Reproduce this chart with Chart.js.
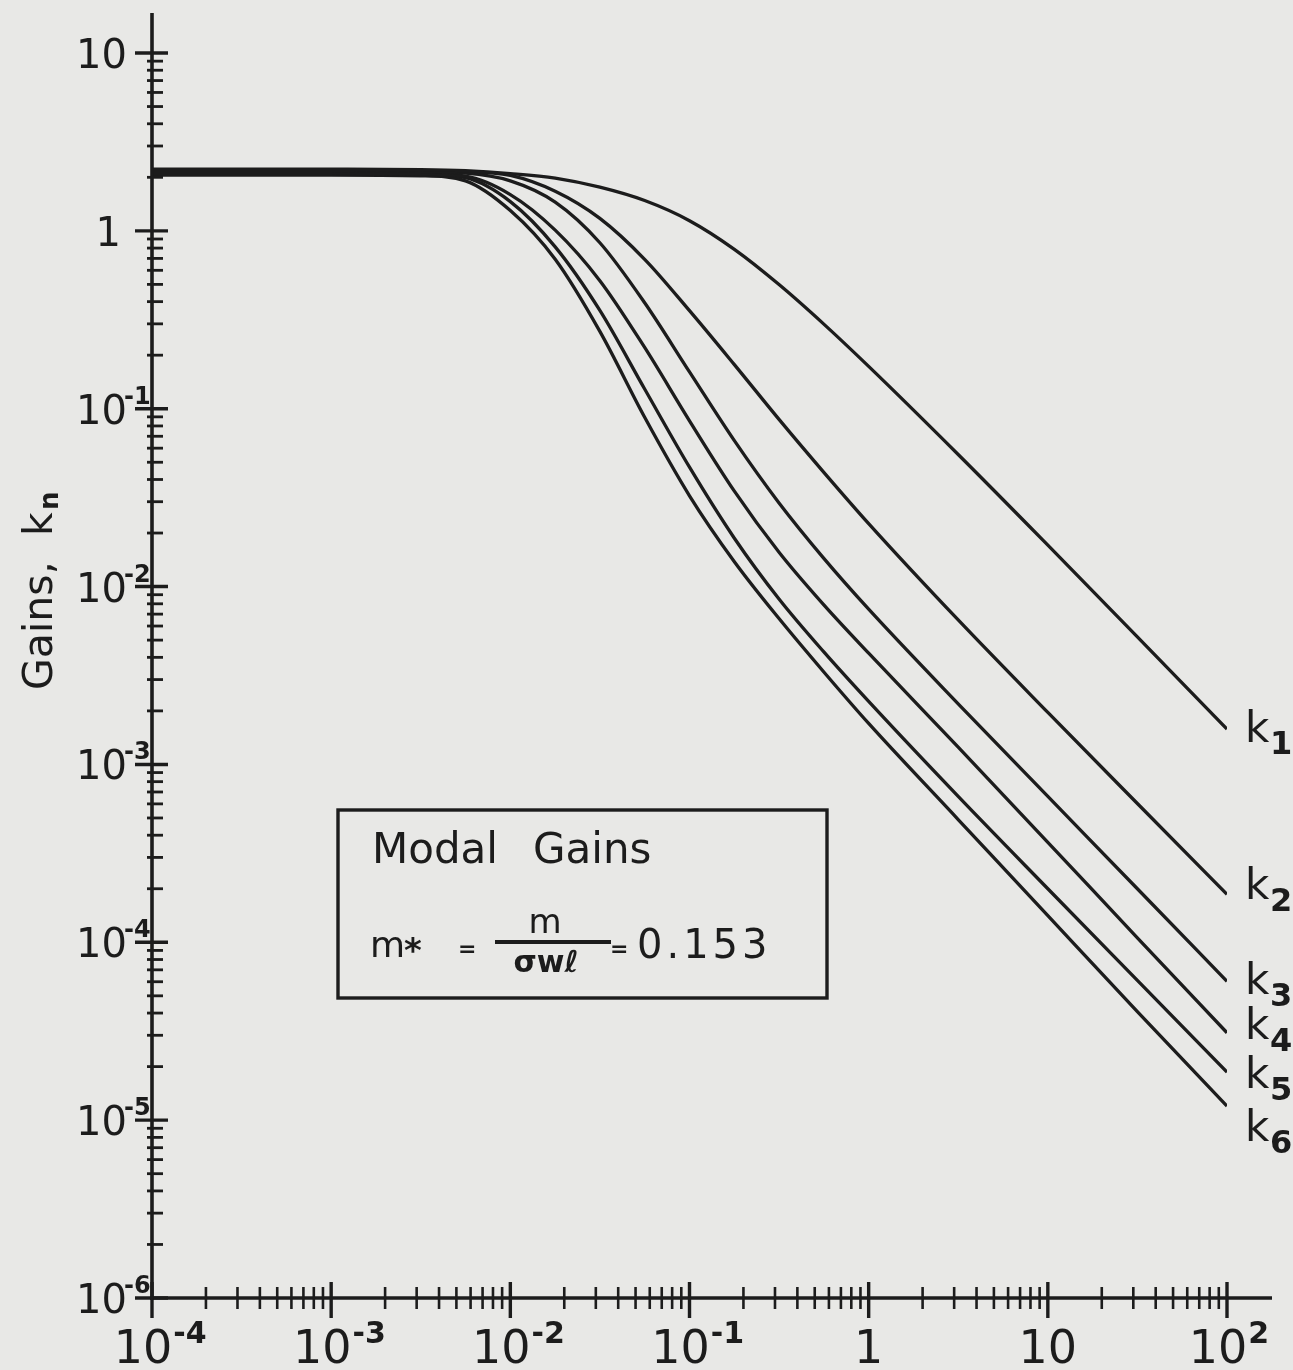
<!DOCTYPE html>
<html>
<head>
<meta charset="utf-8">
<title>Modal Gains</title>
<script src="https://cdn.jsdelivr.net/npm/chart.js"></script>
<style>
  html, body { margin: 0; padding: 0; background: #e8e8e6; }
  #wrap { width: 1293px; height: 1370px; }
</style>
</head>
<body>
<div id="wrap"><canvas id="gainsChart" width="1293" height="1370"></canvas></div>
<script>
// values (x = dimensionless frequency, y = gain)
const xPoints = [0.0001, 0.001, 0.00316, 0.00562, 0.01, 0.0178, 0.0316, 0.0562, 0.1, 0.178, 0.316, 0.562, 1, 3.16, 10, 31.6, 100];
const k1 = [2.22, 2.22, 2.21, 2.18, 2.10, 1.98, 1.76, 1.48, 1.14, 0.787, 0.499, 0.299, 0.173, 0.0553, 0.0171, 0.00522, 0.00158];
const k2 = [2.18, 2.18, 2.16, 2.15, 2.05, 1.67, 1.175, 0.692, 0.356, 0.177, 0.0871, 0.0439, 0.0226, 0.00649, 0.00196, 0.000603, 0.000186];
const k3 = [2.14, 2.14, 2.14, 2.11, 1.91, 1.45, 0.857, 0.394, 0.161, 0.0661, 0.0295, 0.0144, 0.00746, 0.00219, 0.000661, 0.000200, 0.0000603];
const k4 = [2.11, 2.11, 2.09, 2.03, 1.60, 1.01, 0.525, 0.221, 0.0855, 0.0344, 0.0156, 0.00789, 0.00422, 0.00125, 0.000365, 0.000106, 0.000031];
const k5 = [2.09, 2.09, 2.08, 1.99, 1.46, 0.813, 0.357, 0.129, 0.0469, 0.0187, 0.00851, 0.00429, 0.00226, 0.000661, 0.000200, 0.0000610, 0.0000186];
const k6 = [2.06, 2.06, 2.04, 1.91, 1.30, 0.692, 0.272, 0.0895, 0.0324, 0.0138, 0.00661, 0.00331, 0.0017, 0.00049, 0.000141, 0.0000407, 0.000012];

const seriesList = [k1, k2, k3, k4, k5, k6];
const seriesSubs = ['1', '2', '3', '4', '5', '6'];

// axis decades (tick labels are 10^exp)
const xTickExps = [-4, -3, -2, -1, 0, 1, 2];
const yTickExps = [-6, -5, -4, -3, -2, -1, 0, 1];

const INK = '#1c1c1c';
const PAPER = '#e8e8e6';
const FONT = '"DejaVu Sans", "Liberation Sans", sans-serif';

// vertical nudges for the k labels at the right end
const labelDy = [13, 5, 13, 6, 16, 35];

function seg(ctx, x1, y1, x2, y2) {
    ctx.beginPath();
    ctx.moveTo(x1, y1);
    ctx.lineTo(x2, y2);
    ctx.stroke();
}

const paperPlugin = {
    id: 'paper',
    beforeDraw(chart) {
        const ctx = chart.ctx;
        ctx.save();
        ctx.fillStyle = PAPER;
        ctx.fillRect(0, 0, chart.width, chart.height);
        ctx.restore();
    }
};

const handAxes = {
    id: 'handAxes',
    afterDraw(chart) {
        const { ctx, scales: { x, y } } = chart;
        const left = x.getPixelForValue(1e-4);
        const right = x.getPixelForValue(100);
        const top = y.getPixelForValue(10);
        const bottom = y.getPixelForValue(1e-6);

        ctx.save();
        ctx.strokeStyle = INK;
        ctx.fillStyle = INK;
        ctx.lineCap = 'butt';

        // axis lines
        ctx.lineWidth = 3.6;
        seg(ctx, left, top - 40, left, bottom + 2);
        seg(ctx, left - 2, bottom, right + 45, bottom);

        // y ticks
        yTickExps.forEach(e => {
            const py = y.getPixelForValue(10 ** e);
            ctx.lineWidth = 3.4;
            seg(ctx, left - 17, py, left + 16, py);
            if (e < 1) {
                ctx.lineWidth = 2.8;
                for (let m = 2; m <= 9; m++) {
                    const my = y.getPixelForValue(m * 10 ** e);
                    seg(ctx, left - 5, my, left + 11, my);
                }
            }
        });

        // x ticks
        xTickExps.forEach(e => {
            const px = x.getPixelForValue(10 ** e);
            ctx.lineWidth = 3.4;
            seg(ctx, px, bottom - 16, px, bottom + 20);
            if (e < 2) {
                ctx.lineWidth = 2.6;
                for (let m = 2; m <= 9; m++) {
                    const mx = x.getPixelForValue(m * 10 ** e);
                    seg(ctx, mx, bottom - 11, mx, bottom + 11);
                }
            }
        });

        // y tick labels
        ctx.textBaseline = 'alphabetic';
        yTickExps.forEach(e => {
            const py = y.getPixelForValue(10 ** e);
            ctx.font = '40px ' + FONT;
            ctx.textAlign = 'right';
            if (e === 0) {
                ctx.fillText('1', left - 31, py + 15);
                return;
            }
            ctx.fillText('10', left - 25, py + 15);
            if (e !== 1) {
                ctx.font = 'bold 24px ' + FONT;
                ctx.textAlign = 'left';
                ctx.fillText(String(e), left - 28, py - 5);
            }
        });

        // x tick labels
        xTickExps.forEach(e => {
            const px = x.getPixelForValue(10 ** e);
            ctx.font = '46px ' + FONT;
            if (e === 0 || e === 1) {
                ctx.textAlign = 'center';
                ctx.fillText(e === 0 ? '1' : '10', px, bottom + 65);
            } else {
                const bw = ctx.measureText('10').width;
                ctx.textAlign = 'center';
                ctx.fillText('10', px - 9, bottom + 65);
                ctx.font = 'bold 30px ' + FONT;
                ctx.textAlign = 'left';
                ctx.fillText(String(e), px - 9 + bw / 2 + 1, bottom + 45);
            }
        });

        // axis title, rotated
        ctx.save();
        ctx.translate(52, 690);
        ctx.rotate(-Math.PI / 2);
        ctx.textAlign = 'left';
        ctx.font = '41px ' + FONT;
        ctx.fillText('Gains,', 0, 0);
        ctx.fillText('k', 154, 0);
        ctx.font = 'bold 26px ' + FONT;
        ctx.fillText('n', 180, 6);
        ctx.restore();

        // curve names at the right ends
        seriesList.forEach((s, i) => {
            const ex = x.getPixelForValue(xPoints[xPoints.length - 1]);
            const ey = y.getPixelForValue(s[s.length - 1]);
            ctx.textAlign = 'left';
            ctx.font = '42px ' + FONT;
            ctx.fillText('k', ex + 18, ey + labelDy[i]);
            ctx.font = 'bold 32px ' + FONT;
            ctx.fillText(seriesSubs[i], ex + 43, ey + labelDy[i] + 12);
        });

        // inset box
        const bx = 338, by = 810, bw2 = 489, bh = 188;
        ctx.lineWidth = 3.4;
        ctx.strokeRect(bx, by, bw2, bh);
        ctx.textAlign = 'left';
        ctx.font = '42px ' + FONT;
        ctx.fillText('Modal', 372, 863);
        ctx.fillText('Gains', 533, 863);

        ctx.font = '36px ' + FONT;
        ctx.fillText('m', 370, 957);
        ctx.font = 'bold 34px ' + FONT;
        ctx.fillText('*', 404, 962);
        ctx.font = 'bold 22px ' + FONT;
        ctx.fillText('=', 458, 956);
        ctx.font = '34px ' + FONT;
        ctx.textAlign = 'center';
        ctx.fillText('m', 545, 933);
        ctx.lineWidth = 4;
        seg(ctx, 495, 942, 611, 942);
        ctx.font = 'bold 30px ' + FONT;
        ctx.fillText('σwℓ', 546, 972);
        ctx.textAlign = 'left';
        ctx.font = 'bold 22px ' + FONT;
        ctx.fillText('=', 610, 956);
        ctx.font = '40px ' + FONT;
        if ('letterSpacing' in ctx) ctx.letterSpacing = '4px';
        ctx.fillText('0.153', 637, 958);
        if ('letterSpacing' in ctx) ctx.letterSpacing = '0px';

        ctx.restore();
    }
};

const datasets = seriesList.map((s, i) => ({
    label: 'k' + seriesSubs[i],
    data: xPoints.map((xv, j) => ({ x: xv, y: s[j] })),
    borderColor: INK,
    borderWidth: 3.3,
    pointRadius: 0,
    fill: false,
    cubicInterpolationMode: 'monotone'
}));

new Chart(document.getElementById('gainsChart'), {
    type: 'line',
    data: { datasets },
    options: {
        responsive: false,
        animation: false,
        devicePixelRatio: 1,
        layout: { padding: { left: 152, right: 66, top: 53, bottom: 72 } },
        plugins: {
            legend: { display: false },
            tooltip: { enabled: false }
        },
        scales: {
            x: { type: 'logarithmic', min: 1e-4, max: 100, display: false },
            y: { type: 'logarithmic', min: 1e-6, max: 10, display: false }
        }
    },
    plugins: [paperPlugin, handAxes]
});
</script>
</body>
</html>
